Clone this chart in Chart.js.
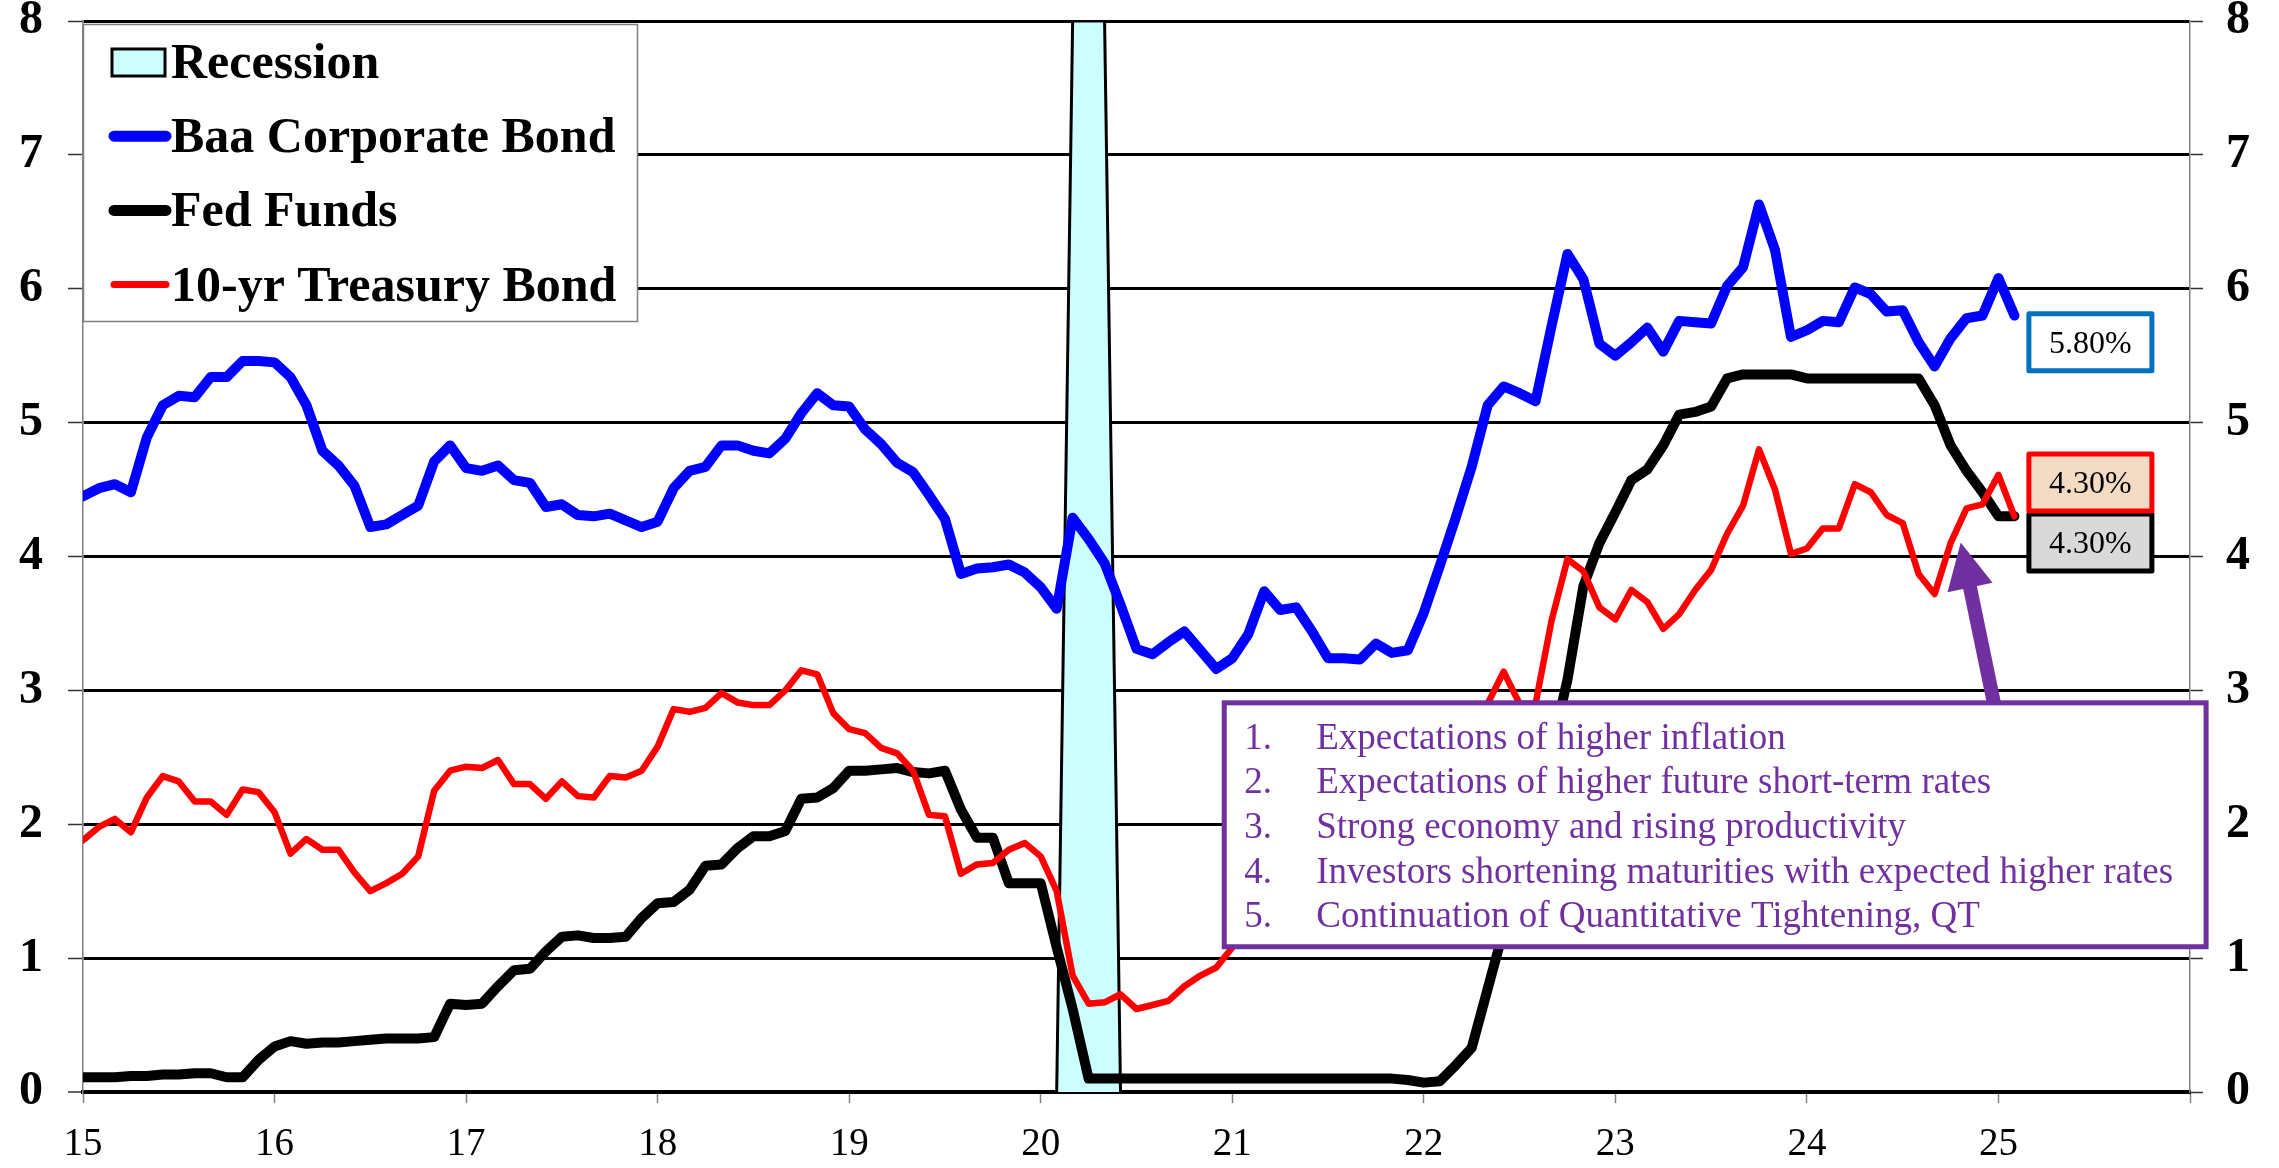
<!DOCTYPE html>
<html>
<head>
<meta charset="utf-8">
<title>Interest rates</title>
<script src="https://cdn.jsdelivr.net/npm/chart.js@4.4.1/dist/chart.umd.min.js"></script>
<style>
  html, body { margin: 0; padding: 0; background: #fff; }
  #chart { display: block; }
</style>
</head>
<body>
<canvas id="chart" width="2279" height="1168"></canvas>
<script>
'use strict';

// Monthly values, Jan 2015 .. Feb 2025 (x axis: 15 = 2015)
const startYear = 15;

const baaBond = [
  4.45, 4.51, 4.54, 4.48, 4.89, 5.13, 5.20, 5.19, 5.34, 5.34, 5.46, 5.46,
  5.45, 5.34, 5.13, 4.79, 4.68, 4.53, 4.22, 4.24, 4.31, 4.38, 4.71, 4.83,
  4.66, 4.64, 4.68, 4.57, 4.55, 4.37, 4.39, 4.31, 4.30, 4.32, 4.27, 4.22,
  4.26, 4.51, 4.64, 4.67, 4.83, 4.83, 4.79, 4.77, 4.88, 5.07, 5.22, 5.13,
  5.12, 4.95, 4.84, 4.70, 4.63, 4.46, 4.28, 3.87, 3.91, 3.92, 3.94, 3.88,
  3.77, 3.61, 4.29, 4.13, 3.95, 3.64, 3.31, 3.27, 3.36, 3.44, 3.30, 3.16,
  3.24, 3.42, 3.74, 3.60, 3.62, 3.44, 3.24, 3.24, 3.23, 3.35, 3.28, 3.30,
  3.58, 3.93, 4.29, 4.67, 5.13, 5.27, 5.22, 5.16, 5.72, 6.26, 6.07, 5.59,
  5.50, 5.60, 5.71, 5.53, 5.76, 5.75, 5.74, 6.02, 6.16, 6.63, 6.29, 5.64,
  5.69, 5.76, 5.75, 6.01, 5.96, 5.83, 5.84, 5.60, 5.42, 5.63, 5.78, 5.80,
  6.08, 5.80
];

const fedFunds = [
  0.11, 0.11, 0.11, 0.12, 0.12, 0.13, 0.13, 0.14, 0.14, 0.11, 0.11, 0.24,
  0.34, 0.38, 0.36, 0.37, 0.37, 0.38, 0.39, 0.40, 0.40, 0.40, 0.41, 0.66,
  0.65, 0.66, 0.79, 0.91, 0.92, 1.05, 1.16, 1.17, 1.15, 1.15, 1.16, 1.30,
  1.41, 1.42, 1.51, 1.69, 1.70, 1.82, 1.91, 1.91, 1.95, 2.19, 2.20, 2.27,
  2.40, 2.40, 2.41, 2.42, 2.39, 2.38, 2.40, 2.11, 1.90, 1.90, 1.56, 1.56,
  1.56, 1.08, 0.62, 0.10, 0.10, 0.10, 0.10, 0.10, 0.10, 0.10, 0.10, 0.10,
  0.10, 0.10, 0.10, 0.10, 0.10, 0.10, 0.10, 0.10, 0.10, 0.10, 0.10, 0.09,
  0.07, 0.08, 0.20, 0.33, 0.77, 1.21, 1.68, 2.33, 2.56, 3.08, 3.78, 4.10,
  4.33, 4.57, 4.65, 4.83, 5.06, 5.08, 5.12, 5.33, 5.36, 5.36, 5.36, 5.36,
  5.33, 5.33, 5.33, 5.33, 5.33, 5.33, 5.33, 5.33, 5.13, 4.83, 4.64, 4.48,
  4.30, 4.30
];

const treasury10 = [
  1.88, 1.98, 2.04, 1.94, 2.20, 2.36, 2.32, 2.17, 2.17, 2.07, 2.26, 2.24,
  2.09, 1.78, 1.89, 1.81, 1.81, 1.64, 1.50, 1.56, 1.63, 1.76, 2.25, 2.40,
  2.43, 2.42, 2.48, 2.30, 2.30, 2.19, 2.32, 2.21, 2.20, 2.36, 2.35, 2.40,
  2.58, 2.86, 2.84, 2.87, 2.98, 2.91, 2.89, 2.89, 3.00, 3.15, 3.12, 2.83,
  2.71, 2.68, 2.57, 2.53, 2.40, 2.07, 2.06, 1.63, 1.70, 1.71, 1.81, 1.86,
  1.76, 1.50, 0.87, 0.66, 0.67, 0.73, 0.62, 0.65, 0.68, 0.79, 0.87, 0.93,
  1.08, 1.26, 1.61, 1.64, 1.62, 1.52, 1.32, 1.28, 1.37, 1.58, 1.56, 1.47,
  1.76, 1.93, 2.13, 2.75, 2.90, 3.14, 2.90, 2.90, 3.52, 3.98, 3.89, 3.62,
  3.53, 3.75, 3.66, 3.46, 3.57, 3.75, 3.90, 4.17, 4.38, 4.80, 4.50, 4.02,
  4.06, 4.21, 4.21, 4.54, 4.48, 4.31, 4.25, 3.87, 3.72, 4.10, 4.36, 4.39,
  4.61, 4.30
];

const recessionMonths = ['2020-03', '2020-04', '2020-05'];
const recessionTop = 8;

const seriesNames = ['Recession', 'Baa Corporate Bond', 'Fed Funds', '10-yr Treasury Bond'];
const xTickLabels = ['15', '16', '17', '18', '19', '20', '21', '22', '23', '24', '25'];
const yTickLabels = ['0', '1', '2', '3', '4', '5', '6', '7', '8'];
const lastLabels = ['5.80%', '4.30%', '4.30%'];   // Baa, 10-yr, Fed Funds
const notes = [
  'Expectations of higher inflation',
  'Expectations of higher future short-term rates',
  'Strong economy and rising productivity',
  'Investors shortening maturities with expected higher rates',
  'Continuation of Quantitative Tightening, QT'
];

const SERIF = '"Liberation Serif", "Times New Roman", serif';
const PURPLE = '#7030A0';

// turn a monthly list into {x, y} points on the year axis
function toPoints(values) {
  return values.map(function (v, i) {
    return { x: startYear + i / 12, y: v };
  });
}

// recession band: 0 the month before, top value during, 0 the month after
function recessionPoints() {
  const idx = recessionMonths.map(function (m) {
    const parts = m.split('-');
    return (parseInt(parts[0], 10) - 2000 - startYear) * 12 + parseInt(parts[1], 10) - 1;
  });
  const pts = [{ x: startYear + (idx[0] - 1) / 12, y: 0 }];
  idx.forEach(function (i) { pts.push({ x: startYear + i / 12, y: recessionTop }); });
  pts.push({ x: startYear + (idx[idx.length - 1] + 1) / 12, y: 0 });
  return pts;
}

// y axes: fixed width, and no extra room asked for the top/bottom labels
function fitYAxis(width) {
  return function (s) {
    s.width = width;
    s.paddingTop = 0;
    s.paddingBottom = 0;
  };
}

// legend, value boxes, arrow and notes drawn on top of the chart
const overlayPlugin = {
  id: 'overlays',
  afterDraw: function (chart) {
    const ctx = chart.ctx;
    const xs = chart.scales.x;
    const ys = chart.scales.y;
    const area = chart.chartArea;
    const ds = chart.data.datasets;
    ctx.save();

    // ---- legend box
    const lx = area.left, ly = area.top + 3;
    ctx.fillStyle = '#fff';
    ctx.fillRect(lx, ly, 555, 298);
    ctx.strokeStyle = '#808080';
    ctx.lineWidth = 1.5;
    ctx.strokeRect(lx + 0.5, ly + 0.5, 554, 297);

    ctx.font = 'bold 50px ' + SERIF;
    ctx.textAlign = 'left';
    ctx.textBaseline = 'alphabetic';
    for (let k = 0; k < seriesNames.length; k++) {
      const base = ly + 54 + k * 74.2;
      const my = base - 16;
      if (k === 0) {
        ctx.fillStyle = ds[0].backgroundColor;
        ctx.fillRect(lx + 29, my - 13, 53, 27);
        ctx.strokeStyle = '#000';
        ctx.lineWidth = 3;
        ctx.strokeRect(lx + 29, my - 13, 53, 27);
      } else {
        ctx.strokeStyle = ds[k].borderColor;
        ctx.lineWidth = k === 3 ? 7 : 11;
        ctx.lineCap = 'round';
        ctx.beginPath();
        ctx.moveTo(lx + 31, my);
        ctx.lineTo(lx + 83, my);
        ctx.stroke();
      }
      ctx.fillStyle = '#000';
      ctx.fillText(seriesNames[k], lx + 88, base);
    }

    // ---- latest-value boxes
    const bx = xs.getPixelForValue(25.48);
    const boxes = [
      { text: lastLabels[0], v: 5.60, fill: '#fff', stroke: '#0070C0' },
      { text: lastLabels[2], v: 4.105, fill: '#D9D9D9', stroke: '#000' },
      { text: lastLabels[1], v: 4.553, fill: '#F3DCC3', stroke: '#FF0000' }
    ];
    ctx.font = '32px ' + SERIF;
    ctx.textAlign = 'center';
    ctx.textBaseline = 'middle';
    boxes.forEach(function (b) {
      const cy = ys.getPixelForValue(b.v);
      const w = 123, h = 57;
      ctx.fillStyle = b.fill;
      ctx.fillRect(bx - w / 2, cy - h / 2, w, h);
      ctx.strokeStyle = b.stroke;
      ctx.lineWidth = 5;
      ctx.lineJoin = 'round';
      ctx.strokeRect(bx - w / 2, cy - h / 2, w, h);
      ctx.fillStyle = '#000';
      ctx.fillText(b.text, bx, cy + 2);
    });

    // ---- arrow pointing at the latest yields
    const tip = { x: xs.getPixelForValue(24.803), y: ys.getPixelForValue(4.105) };
    const tail = { x: xs.getPixelForValue(24.98), y: ys.getPixelForValue(2.88) };
    const dx = tip.x - tail.x, dy = tip.y - tail.y;
    const len = Math.sqrt(dx * dx + dy * dy);
    const ux = dx / len, uy = dy / len;
    const headLen = 46, headHalf = 23;
    const baseX = tip.x - ux * headLen, baseY = tip.y - uy * headLen;
    ctx.strokeStyle = PURPLE;
    ctx.fillStyle = PURPLE;
    ctx.lineWidth = 14;
    ctx.lineCap = 'butt';
    ctx.beginPath();
    ctx.moveTo(tail.x, tail.y);
    ctx.lineTo(baseX + ux * 4, baseY + uy * 4);
    ctx.stroke();
    ctx.beginPath();
    ctx.moveTo(tip.x, tip.y);
    ctx.lineTo(baseX - uy * headHalf, baseY + ux * headHalf);
    ctx.lineTo(baseX + uy * headHalf, baseY - ux * headHalf);
    ctx.closePath();
    ctx.fill();

    // ---- notes box
    const nx1 = xs.getPixelForValue(20.958), nx2 = xs.getPixelForValue(26.084);
    const ny1 = ys.getPixelForValue(2.907), ny2 = ys.getPixelForValue(1.085);
    ctx.fillStyle = '#fff';
    ctx.fillRect(nx1, ny1, nx2 - nx1, ny2 - ny1);
    ctx.strokeStyle = PURPLE;
    ctx.lineWidth = 5;
    ctx.lineJoin = 'miter';
    ctx.strokeRect(nx1, ny1, nx2 - nx1, ny2 - ny1);
    ctx.fillStyle = PURPLE;
    ctx.font = '37px ' + SERIF;
    ctx.textAlign = 'left';
    ctx.textBaseline = 'alphabetic';
    notes.forEach(function (line, k) {
      const base = ny1 + 46 + k * 44.6;
      ctx.fillText((k + 1) + '.', nx1 + 20, base);
      ctx.fillText(line, nx1 + 92, base);
    });

    ctx.restore();
  }
};

const ctx = document.getElementById('chart');
const chart = new Chart(ctx, {
  type: 'line',
  data: {
    datasets: [
      {
        label: seriesNames[0],
        data: recessionPoints(),
        backgroundColor: '#CCFFFF',
        borderColor: '#000',
        borderWidth: 3,
        fill: 'origin',
        pointRadius: 0,
        order: 3
      },
      {
        label: seriesNames[1],
        data: toPoints(baaBond),
        borderColor: '#0000FF',
        borderWidth: 10,
        fill: false,
        pointRadius: 0,
        borderJoinStyle: 'round',
        borderCapStyle: 'round',
        order: 2
      },
      {
        label: seriesNames[2],
        data: toPoints(fedFunds),
        borderColor: '#000000',
        borderWidth: 10,
        fill: false,
        pointRadius: 0,
        borderJoinStyle: 'round',
        borderCapStyle: 'round',
        order: 1
      },
      {
        label: seriesNames[3],
        data: toPoints(treasury10),
        borderColor: '#FF0000',
        borderWidth: 6.5,
        fill: false,
        pointRadius: 0,
        borderJoinStyle: 'round',
        borderCapStyle: 'round',
        order: 0
      }
    ]
  },
  options: {
    responsive: false,
    animation: false,
    devicePixelRatio: 1,
    layout: { padding: { top: 21, left: 0, right: 0, bottom: 0 } },
    plugins: {
      legend: { display: false },
      tooltip: { enabled: false }
    },
    elements: { line: { tension: 0 } },
    scales: {
      x: {
        type: 'linear',
        min: 15,
        max: 26,
        afterFit: function (s) { s.height = 76; },
        ticks: {
          stepSize: 1,
          autoSkip: false,
          maxRotation: 0,
          padding: 18,
          color: '#000',
          font: { family: SERIF, size: 39 },
          callback: function (v) {
            const i = v - startYear;
            return i >= 0 && i < xTickLabels.length ? xTickLabels[i] : '';
          }
        },
        grid: {
          drawOnChartArea: false,
          drawTicks: true,
          tickLength: 11,
          tickColor: '#808080',
          tickWidth: 1.5
        },
        border: { display: true, color: '#000', width: 4 }
      },
      y: {
        position: 'left',
        min: 0,
        max: 8,
        afterFit: fitYAxis(83),
        ticks: {
          stepSize: 1,
          padding: 25,
          color: '#000',
          font: { family: SERIF, size: 48, weight: 'bold' },
          callback: function (v) { return yTickLabels[v]; }
        },
        grid: {
          color: '#000',
          lineWidth: function (c) { return c.tick && c.tick.value === 0 ? 4 : 3; },
          tickLength: 15,
          tickColor: '#333',
          tickWidth: 1.5
        },
        border: { display: true, color: '#808080', width: 1.5 }
      },
      y2: {
        position: 'right',
        min: 0,
        max: 8,
        afterFit: fitYAxis(89),
        ticks: {
          stepSize: 1,
          padding: 23,
          color: '#000',
          font: { family: SERIF, size: 48, weight: 'bold' },
          callback: function (v) { return yTickLabels[v]; }
        },
        grid: {
          drawOnChartArea: false,
          tickLength: 13,
          tickColor: '#333',
          tickWidth: 1.5
        },
        border: { display: true, color: '#808080', width: 1.5 }
      }
    }
  },
  plugins: [overlayPlugin]
});
</script>
</body>
</html>
